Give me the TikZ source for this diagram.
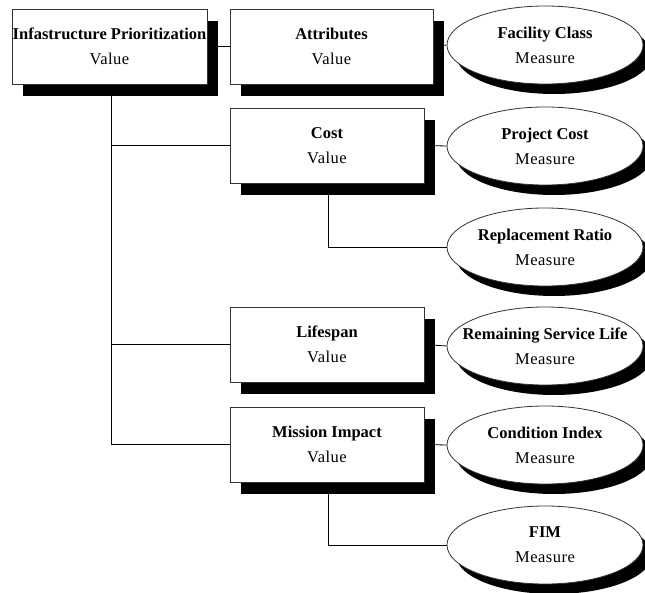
\documentclass[tikz,border=0pt]{standalone}
\usepackage{fontspec}
\setmainfont{Liberation Serif}
\newfontfamily\regspaced[LetterSpace=3]{Liberation Serif}
\newcommand{\ttl}[1]{\textbf{#1}}
\newcommand{\sub}[1]{{\regspaced #1}}
\usetikzlibrary{shadows,shapes.geometric,backgrounds}
\begin{document}
\begin{tikzpicture}[x=1pt,y=-1pt,
  txt/.style={align=center,font=\fontsize{16.5}{25}\selectfont,text=black,inner sep=0pt},
  valbox/.style={rectangle,draw=black!80,line width=0.8pt,fill=white,
    minimum height=75pt,inner sep=0pt,
    drop shadow={shadow xshift=11pt,shadow yshift=-12pt,fill=black,opacity=1}},
  measell/.style={ellipse,draw=black!80,line width=0.8pt,fill=white,
    minimum width=196pt,minimum height=78pt,inner sep=0pt,
    drop shadow={shadow xshift=9pt,shadow yshift=-10pt,fill=black,opacity=1}},
  conn/.style={draw=black,line width=0.8pt}]
\useasboundingbox (0,0) rectangle (645,593);
% value boxes
\node[valbox,minimum width=195pt] (root) at (109.5,46.5) {};
\node[valbox,minimum width=203pt] (attr) at (331.5,46.5) {};
\node[valbox,minimum width=194pt] (cost) at (327,145.5) {};
\node[valbox,minimum width=194pt] (life) at (327,344.5) {};
\node[valbox,minimum width=194pt] (mi) at (327,444.5) {};
\node[txt] (roott) at (root) {\ttl{Infastructure Prioritization}\\\sub{Value}};
\node[txt] (attrt) at (attr) {\ttl{Attributes}\\\sub{Value}};
\node[txt] (costt) at (cost) {\ttl{Cost}\\\sub{Value}};
\node[txt] (lifet) at (life) {\ttl{Lifespan}\\\sub{Value}};
\node[txt] (mit) at (mi) {\ttl{Mission Impact}\\\sub{Value}};
% measure ellipses
\node[measell] (fc) at (545,45) {};
\node[measell] (pc) at (545,146) {};
\node[measell] (rr) at (545,247) {};
\node[measell] (rsl) at (545,346) {};
\node[measell] (ci) at (545,445) {};
\node[measell] (fim) at (545,545) {};
\node[txt] (fct) at (fc) {\ttl{Facility Class}\\\sub{Measure}};
\node[txt] (pct) at (pc) {\ttl{Project Cost}\\\sub{Measure}};
\node[txt] (rrt) at (rr) {\ttl{Replacement Ratio}\\\sub{Measure}};
\node[txt] (rslt) at (rsl) {\ttl{Remaining Service Life}\\\sub{Measure}};
\node[txt] (cit) at (ci) {\ttl{Condition Index}\\\sub{Measure}};
\node[txt] (fimt) at (fim) {\ttl{FIM}\\\sub{Measure}};
% connectors
\begin{pgfonlayer}{background}
\draw[conn] (root.east) -- (attr.west);
\draw[conn] (attr.east) -- (fc.west);
\draw[conn] ([xshift=1.5pt]root.south) |- (mi.west);
\draw[conn] ([xshift=1.5pt]root.south |- cost.west) -- (cost.west);
\draw[conn] ([xshift=1.5pt]root.south |- life.west) -- (life.west);
\draw[conn] (cost.east) -- (pc.west);
\draw[conn] ([xshift=1pt]cost.south) |- (rr.west);
\draw[conn] (life.east) -- (rsl.west);
\draw[conn] (mi.east) -- (ci.west);
\draw[conn] ([xshift=1pt]mi.south) |- (fim.west);
\end{pgfonlayer}
\end{tikzpicture}
\end{document}
